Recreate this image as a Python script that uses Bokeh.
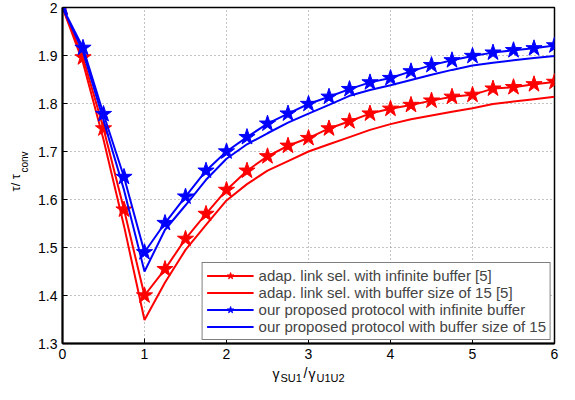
import math
from bokeh.plotting import figure
from bokeh.layouts import row, column
from bokeh.models import Label, LegendItem, Legend, FixedTicker, Range1d
from bokeh.embed import file_html
from bokeh.resources import INLINE

x = [0, 0.25, 0.5, 0.75, 1, 1.25, 1.5, 1.75, 2, 2.25, 2.5, 2.75, 3,
     3.25, 3.5, 3.75, 4, 4.25, 4.5, 4.75, 5, 5.25, 5.5, 5.75, 6]

red_star = [2.0, 1.896, 1.748, 1.579, 1.40, 1.455, 1.518, 1.57, 1.62, 1.66,
            1.69, 1.712, 1.728, 1.748, 1.763, 1.779, 1.789, 1.797, 1.806,
            1.814, 1.818, 1.831, 1.834, 1.840, 1.845]
red_line = [2.0, 1.885, 1.725, 1.545, 1.349, 1.427, 1.495, 1.547, 1.598, 1.632,
            1.66, 1.68, 1.70, 1.715, 1.73, 1.745, 1.757, 1.767, 1.775, 1.783,
            1.790, 1.799, 1.804, 1.809, 1.814]
blue_star = [2.0, 1.916, 1.778, 1.647, 1.49, 1.551, 1.606, 1.66, 1.70, 1.73,
             1.758, 1.779, 1.799, 1.814, 1.830, 1.844, 1.853, 1.867, 1.880,
             1.890, 1.899, 1.906, 1.911, 1.915, 1.921]
blue_line = [2.0, 1.908, 1.765, 1.62, 1.45, 1.537, 1.588, 1.641, 1.685, 1.715,
             1.738, 1.760, 1.779, 1.797, 1.816, 1.828, 1.838, 1.849, 1.860,
             1.870, 1.879, 1.885, 1.890, 1.895, 1.899]

legend_labels = ["adap. link sel. with infinite buffer [5]",
                 "adap. link sel. with buffer size of 15 [5]",
                 "our proposed protocol with infinite buffer",
                 "our proposed protocol with buffer size of 15"]

x_ticks = [0, 1, 2, 3, 4, 5, 6]
y_ticks = [1.3, 1.4, 1.5, 1.6, 1.7, 1.8, 1.9, 2.0]
y_tick_labels = ["1.3", "1.4", "1.5", "1.6", "1.7", "1.8", "1.9", "2"]

FONT = "Liberation Sans"
RED = "#ff0000"
BLUE = "#0000ff"

YLAB_W = 30
MAIN_W = 529
MAIN_H = 362
XLAB_H = 22
BORDER_L = 32
BORDER_R = 5

# ---------------- main plot ----------------
p = figure(width=MAIN_W, height=MAIN_H, x_range=Range1d(0, 6), y_range=Range1d(1.3, 2.0),
           output_backend="svg", toolbar_location=None,
           min_border_left=BORDER_L, min_border_right=BORDER_R,
           min_border_top=7, min_border_bottom=19)
p.background_fill_color = "white"
p.border_fill_color = "white"
p.outline_line_color = "black"
p.outline_line_width = 1.5

for ax in (p.xaxis[0], p.yaxis[0]):
    ax.axis_line_width = 2
    ax.axis_line_color = "black"
    ax.major_tick_in = 5
    ax.major_tick_out = 0
    ax.major_tick_line_color = "black"
    ax.minor_tick_line_color = None
    ax.major_label_text_font = FONT
    ax.major_label_text_font_size = "14px"
    ax.major_label_text_color = "black"
    ax.major_label_standoff = 5

p.xaxis[0].ticker = FixedTicker(ticks=x_ticks)
p.yaxis[0].ticker = FixedTicker(ticks=y_ticks)
p.yaxis[0].major_label_overrides = {t: l for t, l in zip(y_ticks, y_tick_labels)}

p.xgrid.ticker = FixedTicker(ticks=x_ticks)
p.ygrid.ticker = FixedTicker(ticks=y_ticks)
for g in (p.xgrid[0], p.ygrid[0]):
    g.grid_line_color = "#888888"
    g.grid_line_dash = "1 3"
    g.grid_line_width = 1

r1l = p.line(x, red_star, line_color=RED, line_width=2)
r1m = p.scatter(x, red_star, marker="star", size=17, fill_color=RED, line_color=RED)
r2l = p.line(x, red_line, line_color=RED, line_width=2)
b1l = p.line(x, blue_star, line_color=BLUE, line_width=2)
b1m = p.scatter(x, blue_star, marker="star", size=17, fill_color=BLUE, line_color=BLUE)
b2l = p.line(x, blue_line, line_color=BLUE, line_width=2)

legend = Legend(items=[
    LegendItem(label=legend_labels[0], renderers=[r1l, r1m]),
    LegendItem(label=legend_labels[1], renderers=[r2l]),
    LegendItem(label=legend_labels[2], renderers=[b1l, b1m]),
    LegendItem(label=legend_labels[3], renderers=[b2l]),
], location="bottom_right")
legend.margin = 3
legend.padding = 4
legend.spacing = 0
legend.glyph_width = 47
legend.glyph_height = 17
legend.label_height = 17
legend.label_standoff = 5
legend.label_text_font = FONT
legend.label_text_font_size = "15px"
legend.border_line_color = "black"
legend.border_line_width = 1
legend.background_fill_color = "white"
legend.background_fill_alpha = 1
p.add_layout(legend)


def blank_fig(w, h, left=0, right=0):
    f = figure(width=w, height=h, output_backend="svg", toolbar_location=None,
               x_axis_location=None, y_axis_location=None,
               min_border_left=left, min_border_right=right,
               min_border_top=0, min_border_bottom=0)
    f.outline_line_color = None
    f.background_fill_color = "white"
    f.border_fill_color = "white"
    f.xgrid.visible = False
    f.ygrid.visible = False
    return f


# ---------------- x-axis title: gamma_SU1 / gamma_U1U2 ----------------
# same side borders as the main plot, so its frame lines up with the plot frame
xl = blank_fig(MAIN_W, XLAB_H, BORDER_L, BORDER_R)
x3 = 3 * (MAIN_W - BORDER_L - BORDER_R) / 6.0   # x = 3, relative to the frame
for txt, dx, dy, fs in (("γ", -36, 11, "14px"), ("SU1", -28, 7, "11px"),
                        ("/", -5, 12, "14px"), ("γ", 0, 11, "14px"),
                        ("U1U2", 8, 7, "11px")):
    xl.add_layout(Label(x=x3 + dx, y=dy, x_units="screen", y_units="screen", text=txt,
                        text_font=FONT, text_font_size=fs, text_align="left",
                        text_baseline="alphabetic", text_color="black"))

# ---------------- y-axis title: tau / tau_conv ----------------
yl = blank_fig(YLAB_W, MAIN_H + XLAB_H)
yl.add_layout(Label(x=15, y=193, x_units="screen", y_units="screen", text="τ/ τ",
                    angle=math.pi / 2, text_font=FONT, text_font_size="13px",
                    text_align="left", text_baseline="alphabetic", text_color="black"))
yl.add_layout(Label(x=24, y=212, x_units="screen", y_units="screen", text="conv",
                    angle=math.pi / 2, text_font=FONT, text_font_size="10px",
                    text_align="left", text_baseline="alphabetic", text_color="black"))

layout = row(yl, column(p, xl, spacing=0), spacing=0)

open("out.html", "w").write(file_html(layout, INLINE))
